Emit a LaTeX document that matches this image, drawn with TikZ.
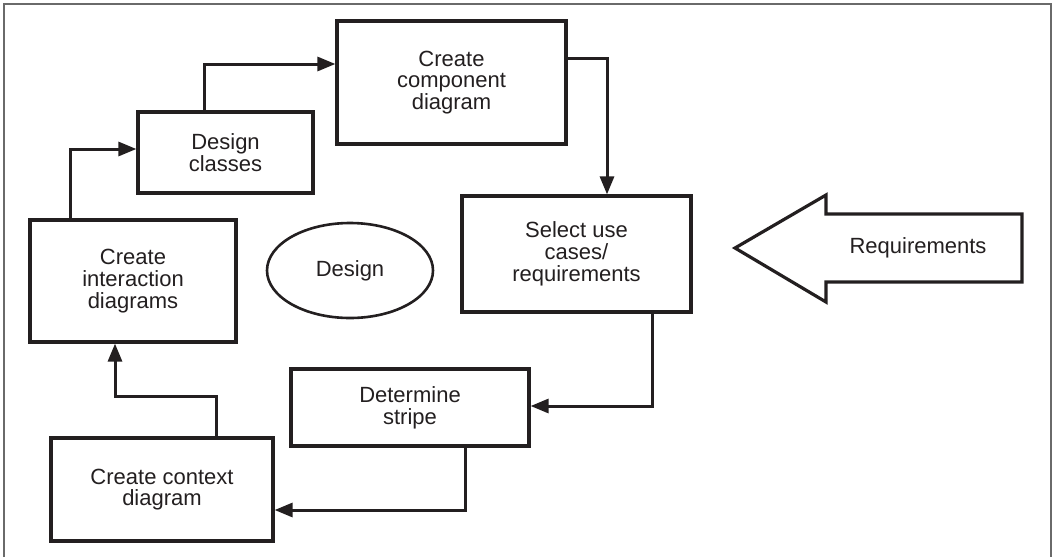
\documentclass[tikz,border=0pt]{standalone}
\usepackage{fontspec}
\setmainfont{Liberation Sans}
\usetikzlibrary{arrows.meta, positioning, shapes.geometric}
\definecolor{ink}{HTML}{231F20}
\definecolor{edge}{HTML}{231F20}
\definecolor{rim}{HTML}{6A6A6A}
\tikzset{
  n/.style={draw=edge, line width=1.6pt, align=center, inner sep=0pt, text=ink,
    font=\fontsize{11}{10.9}\selectfont, fill=white},
  ov/.style={n, ellipse, line width=1.3pt},
  a/.style={-{Triangle[length=9pt, width=7pt]}, draw=edge, line width=1.5pt},
  fr/.style={draw=rim, line width=0.6pt},
}

\begin{document}
\begin{tikzpicture}[x=0.5pt, y=-0.5pt]
\useasboundingbox (0,0) rectangle (1052,557);
\draw[fr] (4,557) -- (4,4) -- (1051,4) -- (1051,557);

\node[n, minimum width=114.5pt, minimum height=61.5pt] (comp) at (451.5,82.5) {Create\\component\\diagram};
\node[n, minimum width=87.5pt, minimum height=40.5pt] (cls) at (225.5,152.5) {Design\\classes};
\node[n, minimum width=103pt, minimum height=61pt] (inter) at (133,281) {Create\\interaction\\diagrams};
\node[n, minimum width=114.5pt, minimum height=58pt] (sel) at (576.5,254) {Select use\\cases/\\requirements};
\node[n, minimum width=119pt, minimum height=38.5pt] (det) at (410,407.5) {Determine\\stripe};
\node[n, minimum width=111pt, minimum height=51.5pt] (ctx) at (162,489.5) {Create context\\diagram};
\node[ov, minimum width=83pt, minimum height=47.5pt] (dsg) at (350,270.5) {Design};

% incoming requirements
\coordinate (rtip) at (735,248);
\draw[draw=edge, line width=1.6pt, fill=white] (rtip) -- (826,195) -- (826,214) -- (1022,214)
  -- (1022,282) -- (826,282) -- (826,302) -- cycle;
\node[n, draw=none, fill=none] (req) at (918,248) {Requirements};

\draw[a] (inter.north -| 70,0) |- (cls.west |- 0,149);
\draw[a] (cls.north -| 204,0) |- (comp.west |- 0,64);
\draw[a] (comp.east |- 0,58) -| (sel.north -| 607,0);
\draw[a] (sel.south -| 652,0) |- (det.east |- 0,406);
\draw[a] (det.south -| 465,0) |- (ctx.east |- 0,510);
\draw[a] (ctx.north -| 216,0) -- (216,396) -| (inter.south -| 115,0);
\end{tikzpicture}
\end{document}
